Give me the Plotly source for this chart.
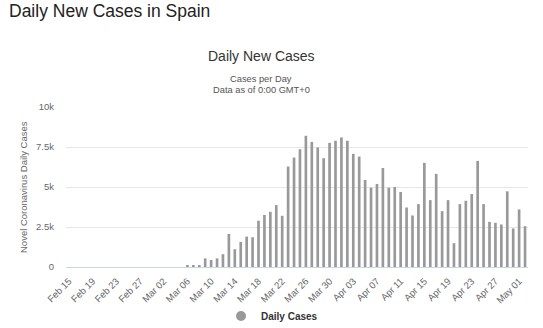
import pandas as pd
import plotly.graph_objects as go

dates = [d.strftime("%b %d") for d in pd.date_range("2020-02-15", "2020-05-02", freq="D")]

daily_cases = [
    0, 0, 0, 0, 0, 0, 0, 0, 0, 0,
    0, 0, 0, 0, 0, 0, 0, 0, 0, 0,
    120, 110, 110, 540, 440, 540, 800, 2070, 1110, 1570,
    1900, 1860, 2890, 3250, 3450, 3870, 3200, 6280, 6840, 7360,
    8200, 7820, 7470, 6800, 7760, 7890, 8100, 7890, 7070, 6900,
    5440, 4960, 5190, 6190, 4960, 5000, 4690, 3720, 3220, 3930,
    6510, 4180, 5820, 3490, 4180, 1490, 3930, 4140, 4560, 6630,
    3930, 2820, 2760, 2660, 4730, 2410, 3600, 2550,
]

y_tickvals = [0, 2500, 5000, 7500, 10000]
y_ticktext = ["0", "2.5k", "5k", "7.5k", "10k"]
x_tickvals = dates[::4]

W, H = 543, 328
L, R, T, B = 66, 15, 107, 61
PW, PH = W - L - R, H - T - B

def px_x(x):
    return (x - L) / PW

def px_y(y):
    return (H - B - y) / PH

FONT = "Liberation Sans, Arial, sans-serif"
BAR = "#999999"

fig = go.Figure()
fig.add_trace(go.Bar(
    x=dates, y=daily_cases, marker=dict(color=BAR, line=dict(width=0)),
    showlegend=False, name="Daily Cases",
))
fig.add_trace(go.Scatter(
    x=[dates[0]], y=[None], mode="markers", name="Daily Cases",
    marker=dict(symbol="circle", size=10, color=BAR), showlegend=True,
))

fig.update_layout(
    width=W, height=H,
    margin=dict(l=L, r=R, t=T, b=B, autoexpand=False),
    paper_bgcolor="white", plot_bgcolor="white",
    font=dict(family=FONT, color="#666666"),
    bargap=0.55,
    showlegend=True,
    legend=dict(
        orientation="h", xref="container", yref="container",
        x=272 / W, xanchor="center",
        y=1 - 316 / H, yanchor="middle",
        font=dict(size=10, color="#333333", family=FONT, weight="bold"),
        itemwidth=30, bgcolor="rgba(0,0,0,0)",
    ),
    xaxis=dict(
        type="category", range=[-0.5, len(dates) - 0.5], automargin=False,
        tickmode="array", tickvals=x_tickvals, ticktext=x_tickvals,
        tickangle=-45, tickfont=dict(size=9.5, color="#666666"),
        showgrid=False, showline=True, linecolor="#ccd6eb", linewidth=1,
        ticks="", zeroline=False, ticklabelstandoff=4,
    ),
    yaxis=dict(
        range=[0, 10000], automargin=False,
        tickmode="array", tickvals=y_tickvals, ticktext=y_ticktext,
        tickfont=dict(size=9.5, color="#666666"),
        showgrid=True, gridcolor="#e6e6e6", gridwidth=1,
        zeroline=False, showline=False, ticks="", ticklabelstandoff=11,
    ),
    annotations=[
        dict(text="Daily New Cases in Spain", xref="paper", yref="paper",
             x=px_x(7), y=px_y(11), xanchor="left", yanchor="middle", showarrow=False,
             font=dict(size=17.5, color="#222222", family=FONT)),
        dict(text="Daily New Cases", xref="paper", yref="paper",
             x=px_x(261), y=px_y(56.5), xanchor="center", yanchor="middle", showarrow=False,
             font=dict(size=14, color="#333333", family=FONT)),
        dict(text="Cases per Day", xref="paper", yref="paper",
             x=px_x(261), y=px_y(79), xanchor="center", yanchor="middle", showarrow=False,
             font=dict(size=9.3, color="#555555", family=FONT)),
        dict(text="Data as of 0:00 GMT+0", xref="paper", yref="paper",
             x=px_x(261), y=px_y(89.5), xanchor="center", yanchor="middle", showarrow=False,
             font=dict(size=9.3, color="#555555", family=FONT)),
        dict(text="Novel Coronavirus Daily Cases", xref="paper", yref="paper",
             x=px_x(23), y=0.5, xanchor="center", yanchor="middle", showarrow=False,
             textangle=-90, font=dict(size=9.5, color="#666666", family=FONT)),
    ],
)

fig.write_html("out.html")
